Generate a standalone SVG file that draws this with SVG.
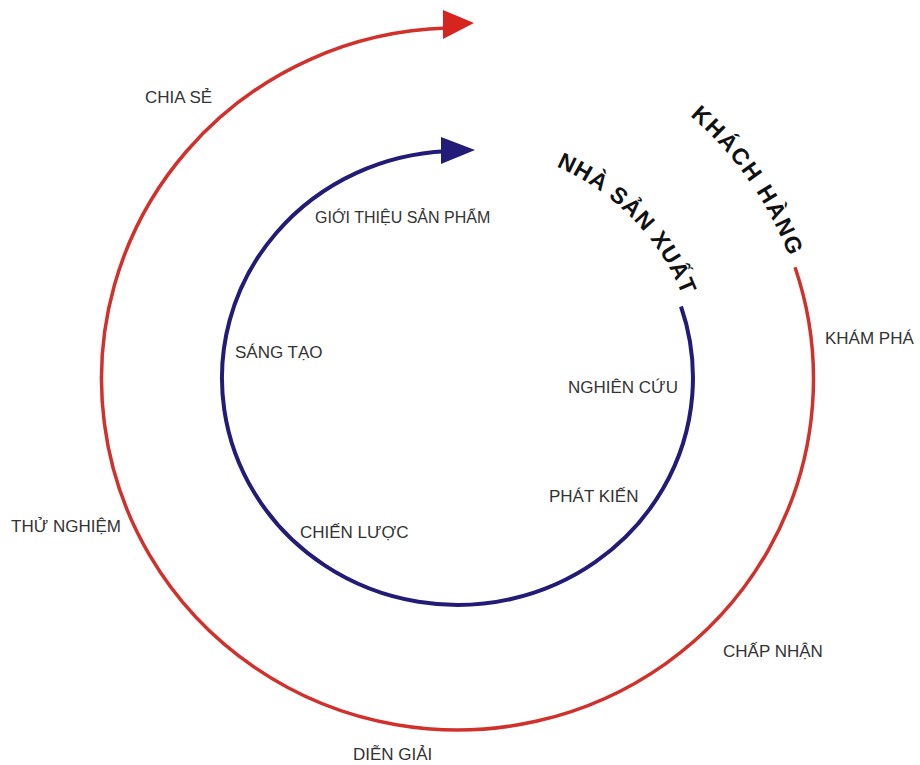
<svg xmlns="http://www.w3.org/2000/svg" xmlns:xlink="http://www.w3.org/1999/xlink" width="920" height="765" viewBox="0 0 920 765">
<style>
.lbl{font-family:"Liberation Sans",Arial,sans-serif;font-size:17px;fill:#333;}
.title{font-family:"Liberation Sans",Arial,sans-serif;font-size:23px;font-weight:bold;fill:#111;}
.red{fill:none;stroke:#d2302b;stroke-width:3.5;}
.blue{fill:none;stroke:#221c78;stroke-width:4;}
</style>
<defs>
<path id="pNSX" d="M 499.3,149.5 A 240.5 232 0 0 1 696.7,353.7"/>
<path id="pKH" d="M 552.1,42.7 A 354 349 0 0 1 809.9,412.4"/>
</defs>
<rect width="920" height="765" fill="#fff"/>
<g id="connectors">
<path class="red" d="M 795,267.3 A 356 351 0 1 1 447,28.1"/>
<polygon points="443,10 474,23 443,39" fill="#d8241f"/>
<path class="blue" d="M 681,306.5 A 235.5 227 0 1 1 446,151.2"/>
<polygon points="441,137 475,150 441,164" fill="#221c78"/>
</g>
<g id="customer">
<text class="title" letter-spacing="1.8" text-anchor="middle"><textPath xlink:href="#pKH" href="#pKH" startOffset="50%">KHÁCH HÀNG</textPath></text>
</g>
<g id="producer">
<text class="title" letter-spacing="1" text-anchor="middle"><textPath xlink:href="#pNSX" href="#pNSX" startOffset="50%">NHÀ SẢN XUẤT</textPath></text>
</g>
<g id="outer-labels">
<text class="lbl" x="145" y="103">CHIA SẺ</text>
<text class="lbl" x="825" y="344">KHÁM PHÁ</text>
<text class="lbl" x="723" y="657">CHẤP NHẬN</text>
<text class="lbl" x="353" y="760">DIỄN GIẢI</text>
<text class="lbl" x="11" y="532">THỬ NGHIỆM</text>
</g>
<g id="inner-labels">
<text class="lbl" x="315" y="223" style="font-size:16px">GIỚI THIỆU SẢN PHẨM</text>
<text class="lbl" x="235" y="358">SÁNG TẠO</text>
<text class="lbl" x="568" y="393">NGHIÊN CỨU</text>
<text class="lbl" x="549" y="502">PHÁT KIẾN</text>
<text class="lbl" x="300" y="538">CHIẾN LƯỢC</text>
</g>
</svg>
